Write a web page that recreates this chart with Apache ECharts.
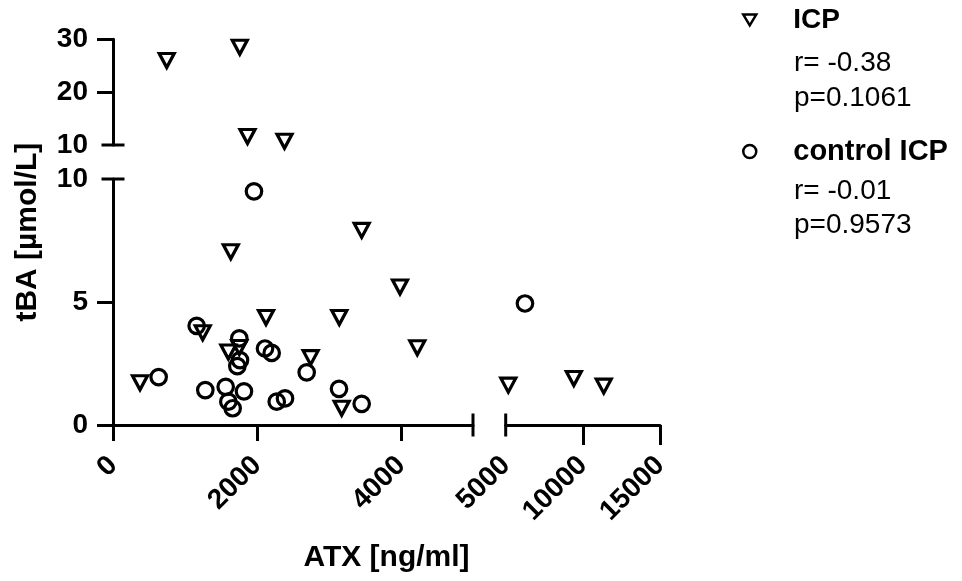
<!DOCTYPE html>
<html><head><meta charset="utf-8">
<script src="https://cdn.jsdelivr.net/npm/echarts@6/dist/echarts.min.js"></script>
<style>html,body{margin:0;padding:0;background:#fff}#c{width:962px;height:581px}</style>
</head><body><div id="c"></div>
<script>
// ---- data ----
const icpX = [375, 1246, 1636, 1602, 1754, 2125, 2745, 3454, 3986, 3143, 3176, 4226, 5168, 9415, 11354, 746, 1761, 1868, 2382];
const icpY = [1.72, 3.75, 7.04, 2.97, 3.15, 4.37, 2.74, 7.91, 5.61, 4.37, 0.68, 3.14, 1.62, 1.89, 1.58, 26.0, 28.5, 11.6, 10.7];
const ctrlX = [1958, 1162, 1754, 2111, 2204, 1764, 1727, 634, 1282, 1565, 1819, 1602, 1662, 2274, 2389, 2690, 3139, 3454, 6248];
const ctrlY = [9.50, 4.03, 3.52, 3.11, 2.93, 2.64, 2.39, 1.95, 1.42, 1.55, 1.37, 0.95, 0.68, 0.95, 1.08, 2.14, 1.47, 0.86, 4.94];
const xTicksLeft = [0, 2000, 4000];
const xTicksRight = [5000, 10000, 15000];
const yTicksLow = [0, 5, 10];
const yTicksHigh = [10, 20, 30];
const seriesNames = ['ICP', 'control ICP'];
const statsICP = ['r= -0.38', 'p=0.1061'];
const statsCtrl = ['r= -0.01', 'p=0.9573'];
const xTitle = 'ATX [ng/ml]';
const yTitle = 'tBA [µmol/L]';
const xBreak = 5000, yBreak = 10;

// ---- build ----
const FONT = '"Liberation Sans", Arial, Helvetica, sans-serif';
const BLACK = '#000';
function pts(xs, ys, test) {
  const out = [];
  xs.forEach((x, i) => { if (test(x, ys[i])) out.push([x, ys[i]]); });
  return out;
}
const inLL = (x, y) => x <= xBreak && y <= yBreak;
const inUL = (x, y) => x <= xBreak && y > yBreak;
const inLR = (x, y) => x > xBreak;

const lineStyle = { color: BLACK, width: 3 };
const tickLabel = { color: BLACK, fontSize: 28, fontWeight: 'bold', fontFamily: FONT,
  formatter: v => String(v) };

const triStyle = {
  symbol: 'triangle', symbolRotate: 180, symbolSize: [15, 14],
  itemStyle: { color: 'rgba(255,255,255,0)', borderColor: BLACK, borderWidth: 3.2, opacity: 1 }
};
const cirStyle = {
  symbol: 'circle', symbolSize: 15.5,
  itemStyle: { color: 'rgba(255,255,255,0)', borderColor: BLACK, borderWidth: 3.2, opacity: 1 }
};
const grids = [inLL, inUL, inLR];
const series = [];
grids.forEach((test, g) => {
  series.push(Object.assign({ type: 'scatter', name: seriesNames[0], xAxisIndex: g, yAxisIndex: g,
    data: pts(icpX, icpY, test), z: 3 }, triStyle));
  series.push(Object.assign({ type: 'scatter', name: seriesNames[1], xAxisIndex: g, yAxisIndex: g,
    data: pts(ctrlX, ctrlY, test), z: 3 }, cirStyle));
});

const legendText = { color: BLACK, fontSize: 28, fontWeight: 'bold', fontFamily: FONT, padding: [0, 0, 0, 32] };
const chart = echarts.init(document.getElementById('c'), null, { renderer: 'canvas' });
const option = {
  animation: false,
  backgroundColor: '#fff',
  textStyle: { fontFamily: FONT },
  grid: [
    { left: 113, top: 179, width: 360, height: 246 },
    { left: 113, top: 39.3, width: 360, height: 105.7 },
    { left: 505.7, top: 179, width: 154.3, height: 246 }
  ],
  xAxis: [
    { gridIndex: 0, type: 'value', min: 0, max: 5000, interval: 2000,
      axisLine: { show: true, onZero: false, lineStyle },
      axisTick: { show: true, length: 16, lineStyle, customValues: xTicksLeft },
      axisLabel: { show: true, rotate: 45, margin: 36, customValues: xTicksLeft, ...tickLabel },
      splitLine: { show: false } },
    { gridIndex: 1, type: 'value', min: 0, max: 5000, show: false },
    { gridIndex: 2, type: 'value', min: 5000, max: 15000, interval: 5000,
      axisLine: { show: true, onZero: false, lineStyle },
      axisTick: { show: true, length: 20, lineStyle, customValues: xTicksRight.slice(1) },
      axisLabel: { show: true, rotate: 45, margin: 36, customValues: xTicksRight, ...tickLabel },
      splitLine: { show: false } }
  ],
  yAxis: [
    { gridIndex: 0, type: 'value', min: 0, max: 10, interval: 5,
      axisLine: { show: true, onZero: false, lineStyle },
      axisTick: { show: true, length: 16, lineStyle, customValues: yTicksLow.slice(0, 2) },
      axisLabel: { show: true, margin: 25, customValues: yTicksLow, ...tickLabel },
      splitLine: { show: false } },
    { gridIndex: 1, type: 'value', min: 10, max: 30, interval: 10,
      axisLine: { show: true, onZero: false, lineStyle },
      axisTick: { show: true, length: 16, lineStyle, customValues: yTicksHigh.slice(1) },
      axisLabel: { show: true, margin: 25, customValues: yTicksHigh, ...tickLabel },
      splitLine: { show: false } },
    { gridIndex: 2, type: 'value', min: 0, max: 10, show: false }
  ],
  legend: [
    { data: [{ name: seriesNames[0], icon: 'path://M0,0 L12,0 L6,10 Z' }], orient: 'vertical', left: 742, top: 6, padding: 0,
      itemWidth: 13, itemHeight: 11, selectedMode: false,
      itemStyle: { borderWidth: 2.5, color: 'rgba(255,255,255,0)', borderColor: BLACK },
      textStyle: legendText },
    { data: [{ name: seriesNames[1], icon: 'circle' }], orient: 'vertical', left: 742, top: 137, padding: 0,
      itemWidth: 13, itemHeight: 13, selectedMode: false,
      itemStyle: { borderWidth: 2.5, color: 'rgba(255,255,255,0)', borderColor: BLACK },
      textStyle: Object.assign({}, legendText, { fontSize: 29 }) }
  ],
  series
};
chart.setOption(option);

// axis-break caps and titles
function cap(p, vertical) {
  const h = 11.5;
  return { type: 'line', silent: true, z: 10,
    shape: vertical ? { x1: p[0], y1: p[1] - h, x2: p[0], y2: p[1] + h }
                    : { x1: p[0] - h, y1: p[1], x2: p[0] + h, y2: p[1] },
    style: { stroke: BLACK, lineWidth: 3 } };
}
const gfx = [
  cap(chart.convertToPixel({ gridIndex: 0 }, [xBreak, 0]), true),
  cap(chart.convertToPixel({ gridIndex: 2 }, [xBreak, 0]), true),
  cap(chart.convertToPixel({ gridIndex: 0 }, [0, yBreak]), false),
  cap(chart.convertToPixel({ gridIndex: 1 }, [0, yBreak]), false)
];
const xl = chart.convertToPixel({ gridIndex: 0 }, [0, 0])[0];
const xr = chart.convertToPixel({ gridIndex: 2 }, [15000, 0])[0];
const yt = chart.convertToPixel({ gridIndex: 1 }, [0, 30])[1];
const yb = chart.convertToPixel({ gridIndex: 0 }, [0, 0])[1];
gfx.push({ type: 'text', silent: true,
  style: { text: xTitle, x: (xl + xr) / 2, y: 558, align: 'center', verticalAlign: 'middle',
    fill: BLACK, font: 'bold 30px ' + FONT } });
gfx.push({ type: 'text', silent: true, x: 28, y: (yt + yb) / 2, rotation: Math.PI / 2,
  style: { text: yTitle, x: 0, y: 0, align: 'center', verticalAlign: 'middle',
    fill: BLACK, font: 'bold 30px ' + FONT } });
const statRows = [[statsICP[0], 63.7], [statsICP[1], 98], [statsCtrl[0], 191], [statsCtrl[1], 225]];
statRows.forEach(([t, y]) => gfx.push({ type: 'text', silent: true,
  style: { text: t, x: 794, y, align: 'left', verticalAlign: 'middle', fill: BLACK, font: '28px ' + FONT } }));
chart.setOption({ graphic: gfx });
</script></body></html>
